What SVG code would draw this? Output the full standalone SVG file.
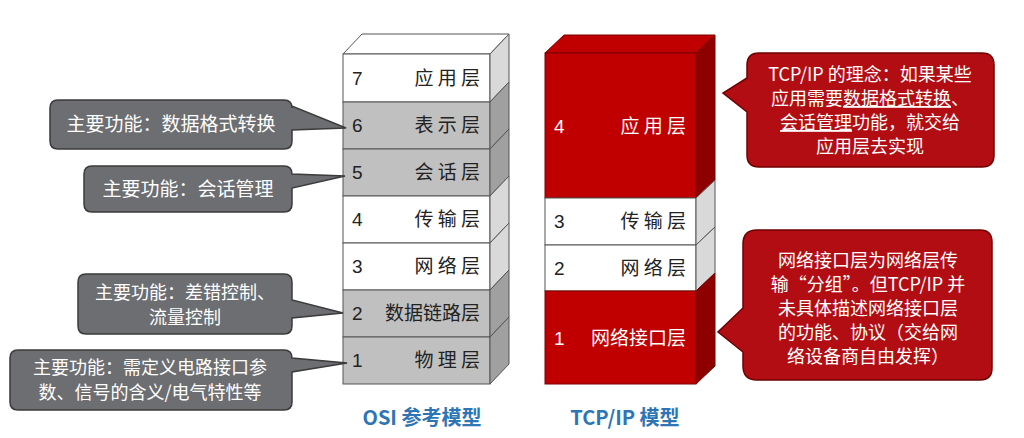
<svg xmlns="http://www.w3.org/2000/svg" width="1024" height="438" viewBox="0 0 1024 438">
<style>
text{font-family:"Noto Sans CJK SC","Liberation Sans",sans-serif}
.lt{font-size:19px;fill:#222}
.ln{font-size:19px;fill:#222;font-family:"Liberation Sans",sans-serif}
.wt{fill:#fff;stroke:#555;stroke-width:1}
.gy{fill:#c0c0c0;stroke:#555;stroke-width:1}
.ws{fill:#d9d9d9;stroke:#555;stroke-width:1}
.gs{fill:#a0a0a0;stroke:#555;stroke-width:1}
.rd{fill:#c00000;stroke:#7a0000;stroke-width:1}
.rs{fill:#8e0000;stroke:#7a0000;stroke-width:1}
.co{fill:#6d6e71;stroke:#3b3b3b;stroke-width:1.5}
.cr{fill:#b30d14;stroke:#6e0000;stroke-width:1.5}
.ct{font-size:19px;fill:#fff}
.cs{font-size:18px;fill:#fff}
.rt{font-size:19px;fill:#fff}
.tt{font-size:20px;font-weight:bold;fill:#2e75b6}
</style>
<g id="osi">
<polygon class="wt" points="343,54 362,34 509,34 490,54"/>
<g id="osi7"><rect class="wt" x="343" y="54" width="147" height="48"/><polygon class="ws" points="490,54 509,34 509,82 490,102"/><text class="ln" x="352" y="85">7</text><text class="lt" x="480" y="85" text-anchor="end">应 用 层</text></g>
<g id="osi6"><rect class="gy" x="343" y="102" width="147" height="47"/><polygon class="gs" points="490,102 509,82 509,129 490,149"/><text class="ln" x="352" y="132">6</text><text class="lt" x="480" y="132" text-anchor="end">表 示 层</text></g>
<g id="osi5"><rect class="gy" x="343" y="149" width="147" height="47"/><polygon class="gs" points="490,149 509,129 509,176 490,196"/><text class="ln" x="352" y="179">5</text><text class="lt" x="480" y="179" text-anchor="end">会 话 层</text></g>
<g id="osi4"><rect class="wt" x="343" y="196" width="147" height="47"/><polygon class="ws" points="490,196 509,176 509,223 490,243"/><text class="ln" x="352" y="226">4</text><text class="lt" x="480" y="226" text-anchor="end">传 输 层</text></g>
<g id="osi3"><rect class="wt" x="343" y="243" width="147" height="47"/><polygon class="ws" points="490,243 509,223 509,270 490,290"/><text class="ln" x="352" y="273">3</text><text class="lt" x="480" y="273" text-anchor="end">网 络 层</text></g>
<g id="osi2"><rect class="gy" x="343" y="290" width="147" height="47"/><polygon class="gs" points="490,290 509,270 509,317 490,337"/><text class="ln" x="352" y="320">2</text><text class="lt" x="480" y="320" text-anchor="end">数据链路层</text></g>
<g id="osi1"><rect class="gy" x="343" y="337" width="147" height="47"/><polygon class="gs" points="490,337 509,317 509,364 490,384"/><text class="ln" x="352" y="367">1</text><text class="lt" x="480" y="367" text-anchor="end">物 理 层</text></g>
<text class="tt" x="422" y="425" text-anchor="middle">OSI 参考模型</text>
</g>
<g id="tcp">
<polygon class="rd" points="545,53 564,35 715,35 696,53"/>
<g id="tcp4"><rect class="rd" x="545" y="53" width="151" height="145"/><polygon class="rs" points="696,53 715,35 715,180 696,198"/><text class="rt" x="554" y="133" style="font-family:'Liberation Sans',sans-serif">4</text><text class="rt" x="686" y="133" text-anchor="end">应 用 层</text></g>
<g id="tcp3"><rect class="wt" x="545" y="198" width="151" height="47"/><polygon class="ws" points="696,198 715,180 715,227 696,245"/><text class="ln" x="554" y="228">3</text><text class="lt" x="686" y="228" text-anchor="end">传 输 层</text></g>
<g id="tcp2"><rect class="wt" x="545" y="245" width="151" height="46"/><polygon class="ws" points="696,245 715,227 715,273 696,291"/><text class="ln" x="554" y="275">2</text><text class="lt" x="686" y="275" text-anchor="end">网 络 层</text></g>
<g id="tcp1"><rect class="rd" x="545" y="291" width="151" height="93"/><polygon class="rs" points="696,291 715,273 715,366 696,384"/><text class="rt" x="554" y="345" style="font-family:'Liberation Sans',sans-serif">1</text><text class="rt" x="686" y="345" text-anchor="end">网络接口层</text></g>
<text class="tt" x="625" y="425" text-anchor="middle">TCP/IP 模型</text>
</g>
<g id="c1"><path class="co" d="M58,100 H284 Q292,100 292,108 V106 L346,128 L292,130 V141 Q292,149 284,149 H58 Q50,149 50,141 V108 Q50,100 58,100 Z"/><text class="ct" x="171" y="131" text-anchor="middle">主要功能：数据格式转换</text></g>
<g id="c2"><path class="co" d="M92,166 H284 Q292,166 292,174 V174 L345,176 L292,188 V204 Q292,212 284,212 H92 Q84,212 84,204 V174 Q84,166 92,166 Z"/><text class="ct" x="188" y="196" text-anchor="middle">主要功能：会话管理</text></g>
<g id="c3"><path class="co" d="M86,274 H284 Q292,274 292,282 V300 L343,313 L292,318 V326 Q292,334 284,334 H86 Q78,334 78,326 V282 Q78,274 86,274 Z"/><text class="cs" x="185" y="299" text-anchor="middle">主要功能：差错控制、</text><text class="cs" x="185" y="324" text-anchor="middle">流量控制</text></g>
<g id="c4"><path class="co" d="M18,350 H284 Q292,350 292,358 V358 L347,363 L292,372 V402 Q292,410 284,410 H18 Q10,410 10,402 V358 Q10,350 18,350 Z"/><text class="cs" x="150" y="374" text-anchor="middle">主要功能：需定义电路接口参</text><text class="cs" x="150" y="399" text-anchor="middle">数、信号的含义/电气特性等</text></g>
<g id="c5"><path class="cr" d="M759,53 H982 Q994,53 994,65 V155 Q994,167 982,167 H759 Q747,167 747,155 V112 L723,93 L747,78 V65 Q747,53 759,53 Z"/>
<text class="cs" x="870" y="81" text-anchor="middle">TCP/IP 的理念：如果某些</text>
<text class="cs" x="870" y="105" text-anchor="middle">应用需要<tspan text-decoration="underline">数据格式转换</tspan>、</text>
<text class="cs" x="870" y="129" text-anchor="middle"><tspan text-decoration="underline">会话管理</tspan>功能，就交给</text>
<text class="cs" x="870" y="153" text-anchor="middle">应用层去实现</text></g>
<g id="c6"><path class="cr" d="M757,230 H980 Q992,230 992,242 V368 Q992,380 980,380 H757 Q743,380 743,366 V352 L718,332 L743,308 V244 Q743,230 757,230 Z"/>
<text class="cs" x="868" y="267" text-anchor="middle">网络接口层为网络层传</text>
<text class="cs" x="868" y="291" text-anchor="middle">输“分组”。但TCP/IP 并</text>
<text class="cs" x="868" y="315" text-anchor="middle">未具体描述网络接口层</text>
<text class="cs" x="868" y="339" text-anchor="middle">的功能、协议（交给网</text>
<text class="cs" x="868" y="363" text-anchor="middle">络设备商自由发挥）</text></g>
<g id="connectors"></g>
</svg>
